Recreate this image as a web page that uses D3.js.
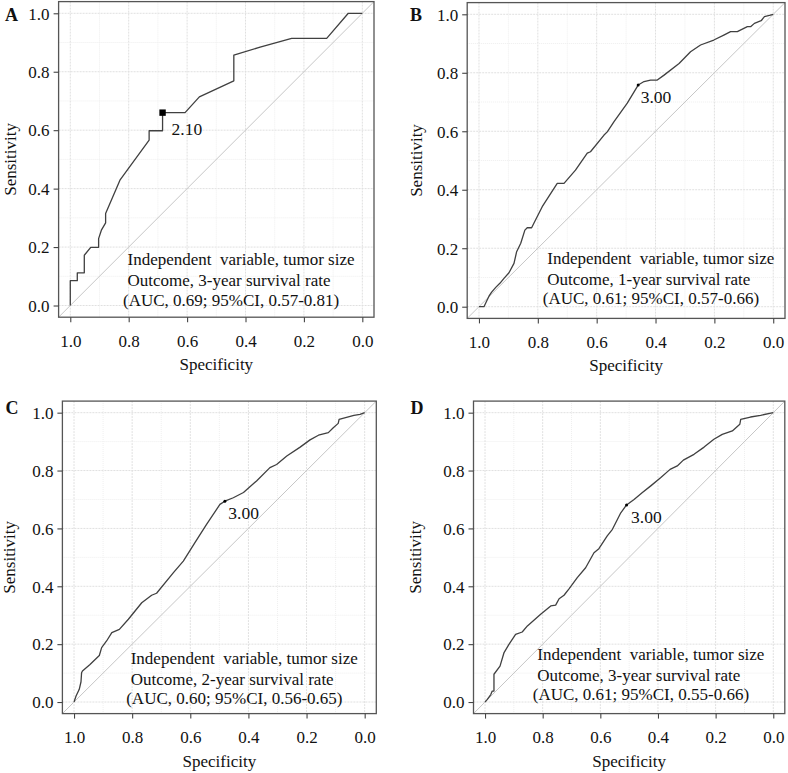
<!DOCTYPE html>
<html>
<head>
<meta charset="utf-8">
<script src="https://cdn.jsdelivr.net/npm/d3@7"></script>
<style>
  html, body { margin: 0; padding: 0; background: #ffffff; }
  svg { display: block; }
  text { font-family: "Liberation Serif", "Times New Roman", serif; fill: #111; }
</style>
</head>
<body>
<svg id="chart" width="788" height="773"></svg>
<script>
// ---------------- data ----------------
const tickValues = [0, 0.2, 0.4, 0.6, 0.8, 1.0];
const gridValues = [0, 0.1, 0.2, 0.3, 0.4, 0.5, 0.6, 0.7, 0.8, 0.9, 1.0];

const panelLetters = ["A", "B", "C", "D"];
const annotationLine1 = ["Independent  variable, tumor size", "Independent  variable, tumor size",
                         "Independent  variable, tumor size", "Independent  variable, tumor size"];
const outcomeLabels = ["Outcome, 3-year survival rate", "Outcome, 1-year survival rate",
                       "Outcome, 2-year survival rate", "Outcome, 3-year survival rate"];
const aucLabels = ["(AUC, 0.69; 95%CI, 0.57-0.81)", "(AUC, 0.61; 95%CI, 0.57-0.66)",
                   "(AUC, 0.60; 95%CI, 0.56-0.65)", "(AUC, 0.61; 95%CI, 0.55-0.66)"];

const cutoffLabels = ["2.10", "3.00", "3.00", "3.00"];
const cutoffSpec = [0.684, 0.459, 0.481, 0.509];
const cutoffSens = [0.660, 0.758, 0.694, 0.681];

// ROC curve A (3-year, small sample)
const specA = [1.0, 1.0, 0.976, 0.976, 0.952, 0.952, 0.930, 0.903, 0.903, 0.893, 0.879, 0.879, 0.830,
               0.730, 0.730, 0.684, 0.684, 0.607, 0.558, 0.440, 0.440, 0.350, 0.242, 0.122, 0.048, 0.0];
const sensA = [0.0, 0.085, 0.085, 0.112, 0.112, 0.172, 0.199, 0.199, 0.229, 0.259, 0.283, 0.315, 0.429,
               0.566, 0.598, 0.598, 0.660, 0.660, 0.714, 0.769, 0.857, 0.884, 0.914, 0.914, 1.0, 1.0];

// ROC curve B (1-year)
const specB = [1.0, 0.983, 0.975, 0.966, 0.957, 0.943, 0.929, 0.915, 0.898, 0.881, 0.872, 0.858, 0.844,
               0.836, 0.821, 0.813, 0.785, 0.745, 0.734, 0.711, 0.672, 0.632, 0.621, 0.575, 0.564, 0.541,
               0.496, 0.459, 0.439, 0.417, 0.394, 0.371, 0.320, 0.281, 0.247, 0.202, 0.168, 0.145, 0.122,
               0.088, 0.076, 0.064, 0.041, 0.030, 0.013, 0.0];
const sensB = [0.0, 0.0, 0.017, 0.036, 0.050, 0.066, 0.080, 0.097, 0.116, 0.148, 0.188, 0.217, 0.262,
               0.270, 0.270, 0.286, 0.342, 0.405, 0.422, 0.422, 0.467, 0.525, 0.530, 0.587, 0.598, 0.633,
               0.696, 0.758, 0.770, 0.775, 0.775, 0.792, 0.832, 0.872, 0.895, 0.912, 0.929, 0.941, 0.941,
               0.958, 0.958, 0.969, 0.978, 0.992, 0.996, 1.0];

// ROC curve C (2-year)
const specC = [1.0, 0.993, 0.982, 0.976, 0.974, 0.971, 0.945, 0.913, 0.905, 0.888, 0.870, 0.844, 0.813,
               0.767, 0.733, 0.716, 0.658, 0.624, 0.584, 0.544, 0.498, 0.481, 0.452, 0.417, 0.372, 0.326,
               0.303, 0.268, 0.222, 0.188, 0.159, 0.125, 0.108, 0.091, 0.088, 0.037, 0.016, 0.0];
const sensC = [0.0, 0.021, 0.044, 0.070, 0.101, 0.107, 0.130, 0.161, 0.188, 0.211, 0.240, 0.251, 0.286,
               0.343, 0.369, 0.376, 0.447, 0.487, 0.551, 0.614, 0.683, 0.694, 0.706, 0.724, 0.764, 0.810,
               0.821, 0.850, 0.881, 0.906, 0.922, 0.931, 0.948, 0.963, 0.977, 0.991, 0.994, 1.0];

// ROC curve D (3-year)
const specD = [1.0, 0.992, 0.980, 0.975, 0.969, 0.969, 0.948, 0.934, 0.917, 0.894, 0.871, 0.853, 0.807,
               0.772, 0.755, 0.743, 0.726, 0.708, 0.680, 0.651, 0.622, 0.605, 0.576, 0.558, 0.529, 0.509,
               0.483, 0.454, 0.425, 0.391, 0.358, 0.333, 0.312, 0.275, 0.240, 0.206, 0.177, 0.142, 0.116,
               0.113, 0.079, 0.044, 0.0];
const sensD = [0.0, 0.009, 0.026, 0.038, 0.038, 0.096, 0.124, 0.171, 0.199, 0.234, 0.242, 0.263, 0.303,
               0.332, 0.335, 0.357, 0.369, 0.392, 0.430, 0.464, 0.516, 0.530, 0.574, 0.597, 0.654, 0.681,
               0.700, 0.724, 0.747, 0.775, 0.804, 0.816, 0.836, 0.856, 0.881, 0.908, 0.925, 0.937, 0.960,
               0.977, 0.985, 0.991, 1.0];

const specSeries = [specA, specB, specC, specD];
const sensSeries = [sensA, sensB, sensC, sensD];

// ---------------- layout ----------------
const layout = [
  { left: 58.6, right: 374.0, top: 1.6, bottom: 317.2, ylab: 10, letterX: 5, letterY: 21,
    ax: 127.5, ay: 265, cutMark: "square", cutDx: 9, cutDy: 22 },
  { left: 467.2, right: 785.0, top: 2.6, bottom: 318.4, ylab: 416.5, letterX: 410, letterY: 21,
    ax: 547.3, ay: 263.5, cutMark: "dot", cutDx: 2.5, cutDy: 18 },
  { left: 62.4, right: 376.3, top: 401.1, bottom: 713.6, ylab: 9.5, letterX: 5.5, letterY: 414,
    ax: 130.7, ay: 663.5, cutMark: "dot", cutDx: 3.5, cutDy: 18 },
  { left: 473.5, right: 784.8, top: 401.1, bottom: 713.6, ylab: 415.5, letterX: 410.5, letterY: 414,
    ax: 537.3, ay: 659.5, cutMark: "dot", cutDx: 4.5, cutDy: 18 }
];

const svg = d3.select("#chart");
const fmt = d3.format(".1f");

layout.forEach((L, i) => {
  const x = d3.scaleLinear().domain([1.04, -0.04]).range([L.left, L.right]);
  const y = d3.scaleLinear().domain([-0.04, 1.04]).range([L.bottom, L.top]);
  const g = svg.append("g");

  const clipId = "clip" + i;
  g.append("clipPath").attr("id", clipId).append("rect")
    .attr("x", L.left).attr("y", L.top).attr("width", L.right - L.left).attr("height", L.bottom - L.top);

  // grid
  const grid = g.append("g");
  gridValues.forEach(v => {
    const major = Math.abs(Math.round(v * 10) % 2) === 0;
    grid.append("line")
      .attr("x1", x(v)).attr("x2", x(v)).attr("y1", L.top).attr("y2", L.bottom)
      .attr("stroke", major ? "#e0e0e0" : "#eeeeee").attr("stroke-width", 1)
      .attr("stroke-dasharray", major ? "2,1" : "1,1");
    grid.append("line")
      .attr("y1", y(v)).attr("y2", y(v)).attr("x1", L.left).attr("x2", L.right)
      .attr("stroke", major ? "#e0e0e0" : "#eeeeee").attr("stroke-width", 1)
      .attr("stroke-dasharray", major ? "2,1" : "1,1");
  });

  // diagonal reference line
  g.append("line")
    .attr("clip-path", `url(#${clipId})`)
    .attr("x1", x(1.04)).attr("y1", y(-0.04)).attr("x2", x(-0.04)).attr("y2", y(1.04))
    .attr("stroke", "#c6c6c6").attr("stroke-width", 1);

  // ROC curve
  const pts = specSeries[i].map((s, k) => [s, sensSeries[i][k]]);
  const line = d3.line().x(d => x(d[0])).y(d => y(d[1]));
  g.append("path").datum(pts)
    .attr("d", line).attr("fill", "none")
    .attr("stroke", "#404040").attr("stroke-width", 1.3).attr("stroke-linejoin", "round");

  // box
  g.append("rect")
    .attr("x", L.left).attr("y", L.top).attr("width", L.right - L.left).attr("height", L.bottom - L.top)
    .attr("fill", "none").attr("stroke", "#555").attr("stroke-width", 1.3);

  // axes
  const yAxis = d3.axisLeft(y).tickValues(tickValues).tickFormat(fmt).tickSize(5).tickPadding(4);
  const ya = g.append("g").attr("transform", `translate(${L.left},0)`).call(yAxis);
  ya.select(".domain").remove();
  ya.selectAll(".tick line").attr("stroke", "#444").attr("stroke-width", 1.1);
  ya.selectAll(".tick text").attr("font-size", 17).attr("font-family", "Liberation Serif, serif")
    .attr("fill", "#111").attr("dy", "0.34em");

  const xAxis = d3.axisBottom(x).tickValues(tickValues).tickFormat(fmt).tickSize(5).tickPadding(10);
  const xa = g.append("g").attr("transform", `translate(0,${L.bottom})`).call(xAxis);
  xa.select(".domain").remove();
  xa.selectAll(".tick line").attr("stroke", "#444").attr("stroke-width", 1.1);
  xa.selectAll(".tick text").attr("font-size", 17).attr("font-family", "Liberation Serif, serif")
    .attr("fill", "#111").attr("y", 29.5).attr("dy", null);

  // axis titles
  g.append("text").attr("x", (L.left + L.right) / 2).attr("y", L.bottom + 53)
    .attr("text-anchor", "middle").attr("font-size", 17).text("Specificity");
  g.append("text")
    .attr("transform", `translate(${L.ylab},${(L.top + L.bottom) / 2}) rotate(-90)`)
    .attr("text-anchor", "middle").attr("dy", "0.35em").attr("font-size", 17).text("Sensitivity");

  // panel letter
  g.append("text").attr("x", L.letterX).attr("y", L.letterY)
    .attr("font-size", 18).attr("font-weight", "bold").text(panelLetters[i]);

  // cutoff point
  const cx = x(cutoffSpec[i]), cy = y(cutoffSens[i]);
  if (L.cutMark === "square") {
    g.append("rect").attr("x", cx - 3.2).attr("y", cy - 3.2).attr("width", 6.4).attr("height", 6.4)
      .attr("fill", "#000");
  } else {
    g.append("circle").attr("cx", cx).attr("cy", cy).attr("r", 1.5).attr("fill", "#000");
  }
  g.append("text").attr("x", cx + L.cutDx).attr("y", cy + L.cutDy)
    .attr("font-size", 17.5).text(cutoffLabels[i]);

  // annotation
  g.append("text").attr("x", L.ax).attr("y", L.ay).attr("font-size", 17)
    .attr("xml:space", "preserve").style("white-space", "pre").text(annotationLine1[i]);
  g.append("text").attr("x", L.ax).attr("y", L.ay + 21).attr("font-size", 17).text(outcomeLabels[i]);
  g.append("text").attr("x", L.ax - 4.5).attr("y", L.ay + 40.5).attr("font-size", 17).text(aucLabels[i]);
});
</script>
</body>
</html>
